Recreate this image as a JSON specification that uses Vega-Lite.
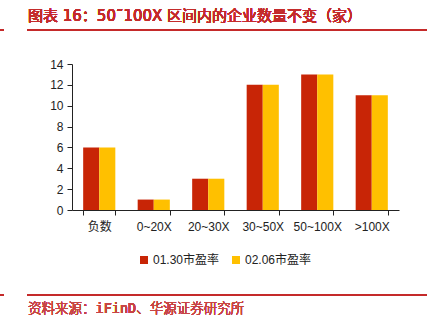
{
  "$schema": "https://vega.github.io/schema/vega-lite/v6.json",
  "width": 327,
  "height": 146,
  "autosize": {"type": "none"},
  "padding": {"left": 72, "top": 64, "right": 36, "bottom": 119},
  "background": "white",
  "config": {
    "view": {"stroke": null},
    "font": "Liberation Sans",
    "axis": {"labelFont": "Liberation Sans, Noto Sans CJK SC", "labelColor": "#222", "domainColor": "#222", "tickColor": "#222", "labelFontSize": 12, "grid": false},
    "legend": {"labelFont": "Liberation Sans, Noto Sans CJK SC", "labelFontSize": 12, "labelColor": "#222"}
  },
  "data": {
    "values": [
      {"cat": "负数", "series": "01.30市盈率", "value": 6},
      {"cat": "负数", "series": "02.06市盈率", "value": 6},
      {"cat": "0~20X", "series": "01.30市盈率", "value": 1},
      {"cat": "0~20X", "series": "02.06市盈率", "value": 1},
      {"cat": "20~30X", "series": "01.30市盈率", "value": 3},
      {"cat": "20~30X", "series": "02.06市盈率", "value": 3},
      {"cat": "30~50X", "series": "01.30市盈率", "value": 12},
      {"cat": "30~50X", "series": "02.06市盈率", "value": 12},
      {"cat": "50~100X", "series": "01.30市盈率", "value": 13},
      {"cat": "50~100X", "series": "02.06市盈率", "value": 13},
      {"cat": ">100X", "series": "01.30市盈率", "value": 11},
      {"cat": ">100X", "series": "02.06市盈率", "value": 11}
    ]
  },
  "layer": [
    {
      "mark": {"type": "bar"},
      "encoding": {
        "x": {
          "field": "cat", "type": "nominal", "sort": null, "title": null,
          "scale": {"paddingInner": 0.41, "paddingOuter": 0.205},
          "axis": {"labelAngle": 0, "tickBand": "extent", "tickSize": 5, "labelPadding": 6}
        },
        "xOffset": {"field": "series", "type": "nominal", "scale": {"paddingInner": 0, "paddingOuter": 0}},
        "y": {
          "field": "value", "type": "quantitative", "title": null,
          "scale": {"domain": [0, 14], "nice": false},
          "axis": {"values": [0, 2, 4, 6, 8, 10, 12, 14], "tickSize": 5, "labelPadding": 4}
        },
        "color": {
          "field": "series", "type": "nominal", "title": null,
          "scale": {"domain": ["01.30市盈率", "02.06市盈率"], "range": ["#C82506", "#FFC000"]},
          "legend": {"orient": "none", "direction": "horizontal", "legendX": 66, "legendY": 190, "symbolType": "square", "symbolSize": 64, "symbolStrokeWidth": 0, "columnPadding": 10, "labelOffset": 3}
        }
      }
    },
    {
      "mark": {"type": "text", "text": "图表 16：50˜100X 区间内的企业数量不变（家）", "align": "left", "baseline": "middle", "font": "DejaVu Sans, Noto Sans CJK SC", "fontSize": 15, "fontWeight": "normal", "color": "#C42B2B"},
      "encoding": {"x": {"value": -44}, "y": {"value": -48}}
    },
    {
      "mark": {"type": "rule", "color": "#C42B2B", "strokeWidth": 1.5},
      "encoding": {"x": {"value": -45}, "x2": {"value": 355}, "y": {"value": -34}}
    },
    {
      "mark": {"type": "rule", "color": "#C42B2B", "strokeWidth": 1.5},
      "encoding": {"x": {"value": -72}, "x2": {"value": -68}, "y": {"value": -34}}
    },
    {
      "mark": {"type": "rule", "color": "#C42B2B", "strokeWidth": 1},
      "encoding": {"x": {"value": -45}, "x2": {"value": 355}, "y": {"value": 231}}
    },
    {
      "mark": {"type": "rule", "color": "#C42B2B", "strokeWidth": 1},
      "encoding": {"x": {"value": -72}, "x2": {"value": -68}, "y": {"value": 231}}
    },
    {
      "mark": {"type": "text", "text": "资料来源：iFinD、华源证券研究所", "align": "left", "baseline": "middle", "font": "DejaVu Sans Mono, Noto Sans CJK SC", "fontSize": 13.5, "fontWeight": 300, "color": "#C84444"},
      "encoding": {"x": {"value": -44}, "y": {"value": 245}}
    }
  ]
}
